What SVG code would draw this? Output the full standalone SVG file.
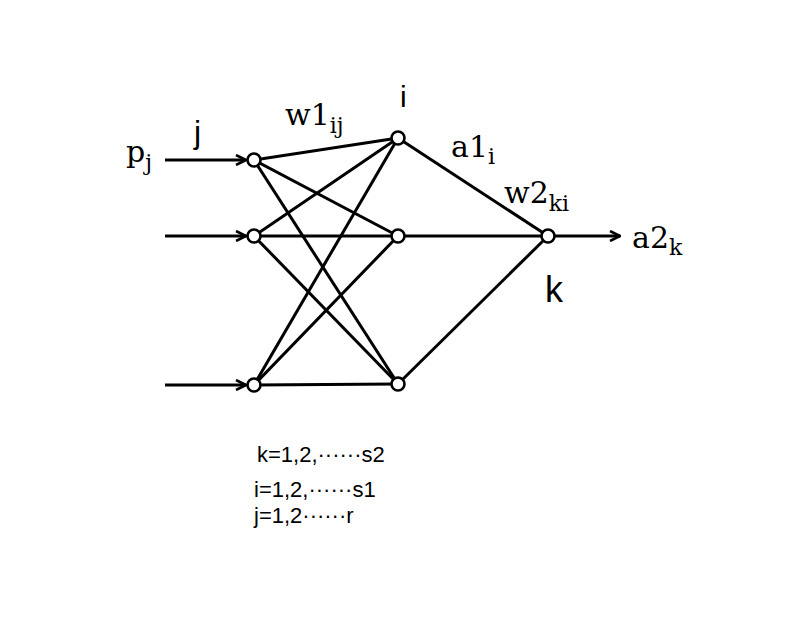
<svg xmlns="http://www.w3.org/2000/svg" width="809" height="618" viewBox="0 0 809 618">
<style>
.ln{stroke:#000;stroke-width:3;fill:none}
.nd{stroke:#000;stroke-width:2.6;fill:#fff}
.sf{font-family:"DejaVu Serif","Liberation Serif",serif;fill:#000}
.ss{font-family:"Liberation Sans","DejaVu Sans",sans-serif;fill:#000}
</style>
<defs>
<marker id="arr" viewBox="0 0 12 12" refX="11" refY="6" markerWidth="12" markerHeight="12" markerUnits="userSpaceOnUse" orient="auto">
<path d="M1,1 L11,6 L1,11" fill="none" stroke="#000" stroke-width="2.6"/>
</marker>
</defs>
<rect width="809" height="618" fill="#fff"/>
<g id="connectors">
<line class="ln" x1="165" y1="160" x2="246" y2="160" marker-end="url(#arr)"/>
<line class="ln" x1="165" y1="236" x2="246" y2="236" marker-end="url(#arr)"/>
<line class="ln" x1="165" y1="385" x2="246" y2="385" marker-end="url(#arr)"/>
<line class="ln" x1="555" y1="236" x2="620" y2="236" marker-end="url(#arr)"/>
<line class="ln" x1="254" y1="160" x2="398" y2="138"/>
<line class="ln" x1="254" y1="160" x2="398" y2="236"/>
<line class="ln" x1="254" y1="160" x2="398" y2="384"/>
<line class="ln" x1="254" y1="236" x2="398" y2="138"/>
<line class="ln" x1="254" y1="236" x2="398" y2="236"/>
<line class="ln" x1="254" y1="236" x2="398" y2="384"/>
<line class="ln" x1="254" y1="385" x2="398" y2="138"/>
<line class="ln" x1="254" y1="385" x2="398" y2="236"/>
<line class="ln" x1="254" y1="385" x2="398" y2="384"/>
<line class="ln" x1="398" y1="138" x2="548" y2="236"/>
<line class="ln" x1="398" y1="236" x2="548" y2="236"/>
<line class="ln" x1="398" y1="384" x2="548" y2="236"/>
</g>
<g id="in1"><circle class="nd" cx="254" cy="160" r="6.5"/></g>
<g id="in2"><circle class="nd" cx="254" cy="236" r="6.5"/></g>
<g id="in3"><circle class="nd" cx="254" cy="385" r="6.5"/></g>
<g id="h1"><circle class="nd" cx="398" cy="138" r="6.5"/></g>
<g id="h2"><circle class="nd" cx="398" cy="236" r="6.5"/></g>
<g id="h3"><circle class="nd" cx="398" cy="384" r="6.5"/></g>
<g id="out"><circle class="nd" cx="548" cy="236" r="6.5"/></g>
<g id="labels">
<text class="sf" x="126" y="162" font-size="30">p<tspan font-size="22" dy="8">j</tspan></text>
<text class="ss" x="194" y="143" font-size="32">j</text>
<text class="sf" x="285" y="125" font-size="30">w1<tspan font-size="22" dy="8">ij</tspan></text>
<text class="ss" x="400" y="107" font-size="30">i</text>
<text class="sf" x="451" y="157" font-size="30">a1<tspan font-size="22" dy="7">i</tspan></text>
<text class="sf" x="504" y="203" font-size="30">w2<tspan font-size="22" dy="8">ki</tspan></text>
<text class="sf" x="632" y="248" font-size="30">a2<tspan font-size="22" dy="7">k</tspan></text>
<text class="ss" x="545" y="302" font-size="36">k</text>
<text class="ss" x="257" y="462" font-size="22">k=1,2,······s2</text>
<text class="ss" x="254" y="497" font-size="22">i=1,2,······s1</text>
<text class="ss" x="254" y="523" font-size="22">j=1,2······r</text>
</g>
</svg>
